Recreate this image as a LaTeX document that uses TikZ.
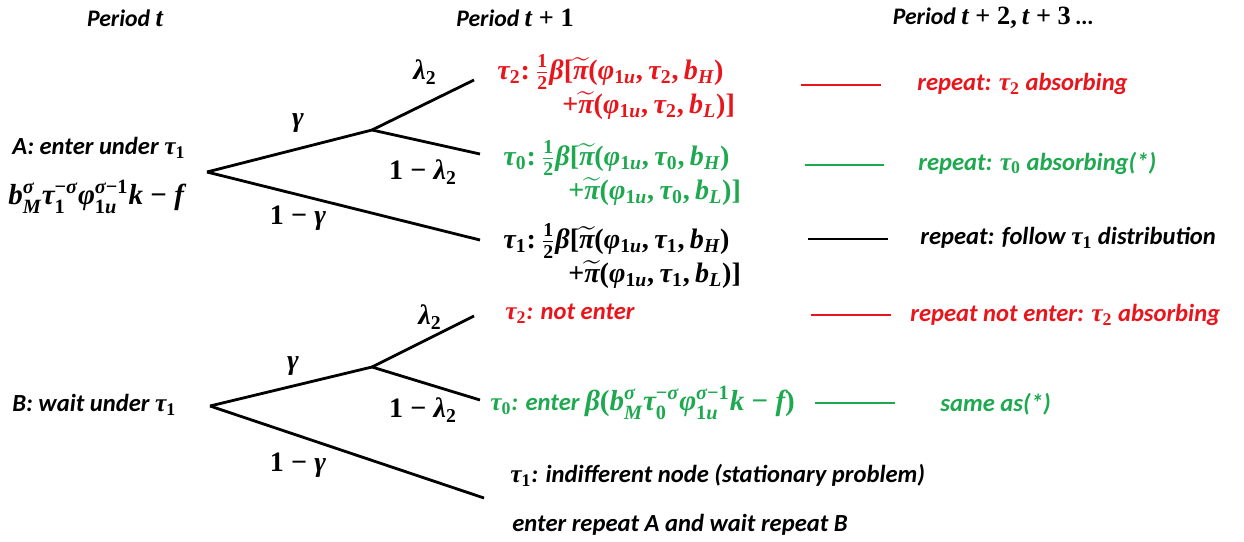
\RequirePackage{fix-cm}
\documentclass[tikz,border=0pt]{standalone}
\usepackage{amsmath}
\usepackage{fontspec}
\setmainfont{Carlito}
\newfontfamily\mlibfam{Liberation Serif}[NFSSFamily=mlib]
\DeclareSymbolFont{mlibbi}{TU}{mlib}{b}{it}
\DeclareSymbolFont{mlibb}{TU}{mlib}{b}{n}
\AtBeginDocument{%
  \Umathcode`b=7 \symmlibbi `b \relax
  \Umathcode`f=7 \symmlibbi `f \relax
  \Umathcode`k=7 \symmlibbi `k \relax
  \Umathcode`u=7 \symmlibbi `u \relax
  \Umathcode`t=7 \symmlibbi `t \relax
  \Umathcode`M=7 \symmlibbi `M \relax
  \Umathcode`H=7 \symmlibbi `H \relax
  \Umathcode`L=7 \symmlibbi `L \relax
  \Umathcode`0=0 \symmlibb `0 \relax
  \Umathcode`1=0 \symmlibb `1 \relax
  \Umathcode`2=0 \symmlibb `2 \relax
  \Umathcode`3=0 \symmlibb `3 \relax
  \Umathcode`-=2 \symmlibb "2212 \relax
  \Umathcode`+=2 \symmlibb `+ \relax
  \Umathcode`(=4 \symmlibb `( \relax
  \Umathcode`)=5 \symmlibb `) \relax
  \Umathcode`[=4 \symmlibb `[ \relax
  \Umathcode`]=5 \symmlibb `] \relax
  \Umathcode`,=6 \symmlibb `, \relax
  \Umathcode`:=0 \symmlibb `: \relax
  \Umathchardef\tau=7 \symmlibbi "03C4 \relax
  \Umathchardef\sigma=7 \symmlibbi "03C3 \relax
  \Umathchardef\varphi=7 \symmlibbi "03C6 \relax
  \Umathchardef\pi=7 \symmlibbi "03C0 \relax
  \Umathchardef\beta=7 \symmlibbi "03B2 \relax
  \Umathchardef\lambda=7 \symmlibbi "03BB \relax
  \Umathchardef\gamma=7 \symmlibbi "03B3 \relax
}
\definecolor{myred}{RGB}{232,22,28}
\definecolor{mygreen}{RGB}{30,168,80}
\newcommand{\mm}[1]{{\fontsize{14.5}{16}\selectfont$\boldsymbol{#1}$}}
\newcommand{\mf}[1]{{\fontsize{16.5}{18}\selectfont$\boldsymbol{#1}$}}
\newcommand{\mb}[1]{{\fontsize{16}{16.5}\selectfont$\boldsymbol{#1}$}}
\begin{document}
\begin{tikzpicture}[x=0.02cm,y=-0.02cm,
  br/.style={line width=1.6pt},
  leg/.style={line width=1.7pt},
  txt/.style={font=\fontsize{14}{16}\selectfont\bfseries\itshape, anchor=west, inner sep=0pt},
  blk/.style={font=\fontsize{16}{16.5}\selectfont, anchor=west, inner sep=0pt, align=left},
  lab/.style={font=\fontsize{16}{17}\selectfont, inner sep=0pt},
  hdr/.style={font=\fontsize{13.5}{15}\selectfont\bfseries\itshape, inner sep=0pt}]
\useasboundingbox (0,0) rectangle (1244,541);
% headers
\node[hdr] (h0) at (125,18) {Period {\fontsize{15}{16}\selectfont$\boldsymbol{t}$}};
\node[hdr] (h1) at (515,18) {Period {\fontsize{15}{16}\selectfont$\boldsymbol{t+1}$}};
\node[hdr] (h2) at (993,18) {Period {\fontsize{15}{16}\selectfont$\boldsymbol{t+2,t+3}$} \dots};
% tree A
\coordinate (Ar) at (207,172);
\coordinate (Ag) at (372,130);
\coordinate (Al) at (474,80);
\coordinate (Am) at (480,154);
\coordinate (An) at (480,240);
\draw[br] (Ar) -- (Ag);
\draw[br] (Ag) -- (Al);
\draw[br] (Ag) -- (Am);
\draw[br] (Ar) -- (An);
\node[lab] (Aga) at (298,123) {$\boldsymbol{\gamma}$};
\node[lab] (Ala) at (425,72) {$\boldsymbol{\lambda_2}$};
\node[lab] (Ama) at (423,172) {$\boldsymbol{1-\lambda_2}$};
\node[lab] (Ana) at (298,218) {$\boldsymbol{1-\gamma}$};
\node[txt] (A1) at (12,148) {A: enter under \mm{\tau_1}};
\node[txt] (A2) at (8,197) {\mf{b_M^{\sigma}\tau_1^{-\sigma}\varphi_{1u}^{\sigma-1}k-f}};
% tree B
\coordinate (Br) at (210,406);
\coordinate (Bg) at (372,367);
\coordinate (Bl) at (474,316);
\coordinate (Bm) at (480,400);
\coordinate (Bn) at (484,498);
\draw[br] (Br) -- (Bg);
\draw[br] (Bg) -- (Bl);
\draw[br] (Bg) -- (Bm);
\draw[br] (Br) -- (Bn);
\node[lab] (Bla) at (430,317) {$\boldsymbol{\lambda_2}$};
\node[lab] (Bga) at (293,366) {$\boldsymbol{\gamma}$};
\node[lab] (Bma) at (423,410) {$\boldsymbol{1-\lambda_2}$};
\node[lab] (Bna) at (298,465) {$\boldsymbol{1-\gamma}$};
\node[txt] (B1) at (12,405) {B: wait under \mm{\tau_1}};
% period t+1 texts
\node[blk, text=myred] (r1) at (497,87) {\mb{\tau_2{:}\,\tfrac{1}{2}\beta[\widetilde{\pi}(\varphi_{1u},\tau_2,b_H)}\\
  \hspace*{37pt}\mb{+\widetilde{\pi}(\varphi_{1u},\tau_2,b_L)]}};
\node[blk, text=mygreen] (g1) at (503,173) {\mb{\tau_0{:}\,\tfrac{1}{2}\beta[\widetilde{\pi}(\varphi_{1u},\tau_0,b_H)}\\
  \hspace*{37pt}\mb{+\widetilde{\pi}(\varphi_{1u},\tau_0,b_L)]}};
\node[blk] (k1) at (503,256) {\mb{\tau_1{:}\,\tfrac{1}{2}\beta[\widetilde{\pi}(\varphi_{1u},\tau_1,b_H)}\\
  \hspace*{37pt}\mb{+\widetilde{\pi}(\varphi_{1u},\tau_1,b_L)]}};
\node[txt, text=myred] (r2) at (505,314) {\mm{\tau_2}: not enter};
\node[txt, text=mygreen] (g2) at (490,403) {\mm{\tau_0}: enter \mf{\beta(b_M^{\sigma}\tau_0^{-\sigma}\varphi_{1u}^{\sigma-1}k-f)}};
\node[txt] (k2) at (510,475) {\mm{\tau_1}: indifferent node (stationary problem)};
\node[txt] (k3) at (512,525) {enter repeat A and wait repeat B};
% legend lines
\coordinate (L1a) at (801,85); \coordinate (L1b) at (881,85);
\coordinate (L2a) at (805,165); \coordinate (L2b) at (884,165);
\coordinate (L3a) at (808,239); \coordinate (L3b) at (888,239);
\coordinate (L4a) at (811,315); \coordinate (L4b) at (891,315);
\coordinate (L5a) at (815,403); \coordinate (L5b) at (895,403);
\draw[leg, myred] (L1a) -- (L1b);
\draw[leg, mygreen] (L2a) -- (L2b);
\draw[leg, black] (L3a) -- (L3b);
\draw[leg, myred] (L4a) -- (L4b);
\draw[leg, mygreen] (L5a) -- (L5b);
\node[txt, text=myred] (p1) at (917,84) {repeat: \mm{\tau_2} absorbing};
\node[txt, text=mygreen] (p2) at (918,163) {repeat: \mm{\tau_0} absorbing(*)};
\node[txt] (p3) at (920,238) {repeat: follow \mm{\tau_1} distribution};
\node[txt, text=myred] (p4) at (910,315) {repeat not enter: \mm{\tau_2} absorbing};
\node[txt, text=mygreen] (p5) at (940,404) {same as(*)};
\end{tikzpicture}
\end{document}
